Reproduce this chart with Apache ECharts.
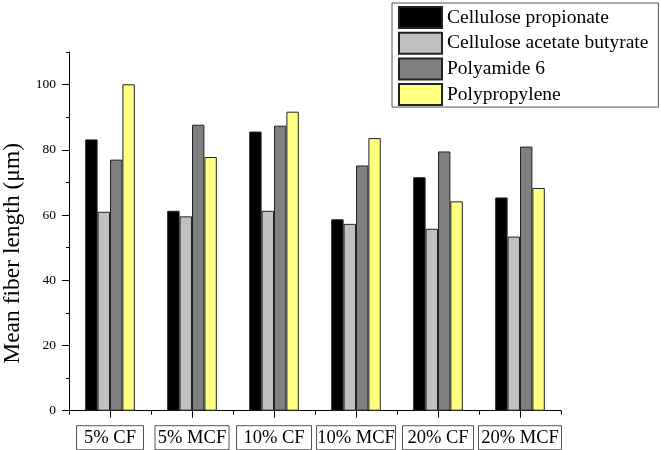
<!DOCTYPE html>
<html>
<head>
<meta charset="utf-8">
<script src="https://cdn.jsdelivr.net/npm/echarts@6/dist/echarts.min.js"></script>
<style>html,body{margin:0;padding:0;background:#fff}#c{width:661px;height:450px}</style>
</head>
<body>
<div id="c"></div>
<script>
var categories = ['5% CF', '5% MCF', '10% CF', '10% MCF', '20% CF', '20% MCF'];
var seriesNames = ['Cellulose propionate', 'Cellulose acetate butyrate', 'Polyamide 6', 'Polypropylene'];
var cellulosePropionate = [83.2, 61.3, 85.6, 58.7, 71.6, 65.4];
var celluloseAcetateButyrate = [61.0, 59.6, 61.3, 57.3, 55.8, 53.4];
var polyamide6 = [77.0, 87.7, 87.4, 75.2, 79.5, 81.0];
var polypropylene = [100.1, 77.8, 91.7, 83.6, 64.2, 68.3];
var yTickLabels = [0, 20, 40, 60, 80, 100];

var values = [cellulosePropionate, celluloseAcetateButyrate, polyamide6, polypropylene];
var colors = ['#000000', '#c0c0c0', '#808080', '#ffff80'];
var labelBoxWidths = [69, 76, 77, 81, 73, 85];
var FONT = '"Liberation Serif", "Times New Roman", serif';

var rich = {};
labelBoxWidths.forEach(function (w, i) {
  rich['w' + i] = { width: w - 2, align: 'center', fontSize: 18.5, fontFamily: FONT, color: '#000', lineHeight: 22 };
});

var chart = echarts.init(document.getElementById('c'), null, { renderer: 'canvas' });
chart.setOption({
  animation: false,
  backgroundColor: '#fff',
  grid: { left: 69, right: 100, top: 52, bottom: 39.3, containLabel: false, outerBoundsMode: 'none' },
  legend: {
    orient: 'vertical',
    left: 392, top: 3,
    data: seriesNames,
    icon: 'rect',
    itemWidth: 43, itemHeight: 21, itemGap: 2.7,
    padding: [3, 10, 1, 6],
    backgroundColor: '#fff',
    borderColor: '#555', borderWidth: 1,
    textStyle: { fontSize: 19.5, fontFamily: FONT, color: '#000' }
  },
  xAxis: [{
    type: 'category',
    data: categories,
    position: 'bottom',
    axisLine: { show: true, lineStyle: { color: '#000', width: 1 } },
    axisTick: { show: true, alignWithLabel: true, length: 7, lineStyle: { color: '#000' } },
    axisLabel: {
      interval: 0,
      hideOverlap: false,
      margin: 15,
      formatter: function (v, i) { return '{w' + i + '|' + v + '}'; },
      rich: rich,
      borderColor: '#555', borderWidth: 1, padding: [1, 0, 1, 0]
    },
    splitLine: { show: false }
  }, {
    type: 'category',
    data: categories,
    position: 'bottom',
    axisLine: { show: false },
    axisTick: { show: true, alignWithLabel: false, length: 4, lineStyle: { color: '#000' } },
    axisLabel: { show: false },
    splitLine: { show: false }
  }],
  yAxis: [{
    type: 'value',
    min: 0, max: 110, interval: 10,
    name: 'Mean fiber length (\u03bcm)',
    nameLocation: 'middle',
    nameGap: 44,
    nameRotate: 90,
    nameTextStyle: { fontSize: 23.5, fontFamily: FONT, color: '#000', padding: [0, 44, 0, 0] },
    axisLine: { show: true, lineStyle: { color: '#000', width: 1 } },
    axisTick: { show: true, length: 7, customValues: yTickLabels, lineStyle: { color: '#000' } },
    axisLabel: { customValues: yTickLabels, margin: 13, fontSize: 13.5, fontFamily: FONT, color: '#000' },
    splitLine: { show: false }
  }, {
    type: 'value',
    min: 0, max: 110, interval: 10,
    position: 'left',
    axisLine: { show: false },
    axisTick: { show: true, length: 3, lineStyle: { color: '#000' } },
    axisLabel: { show: false },
    splitLine: { show: false }
  }],
  series: seriesNames.map(function (name, i) {
    return {
      name: name,
      type: 'bar',
      xAxisIndex: 0,
      yAxisIndex: 0,
      data: values[i],
      barWidth: 12.4,
      barGap: '0%',
      itemStyle: { color: colors[i], borderColor: '#222', borderWidth: 1 }
    };
  })
});
</script>
</body>
</html>
